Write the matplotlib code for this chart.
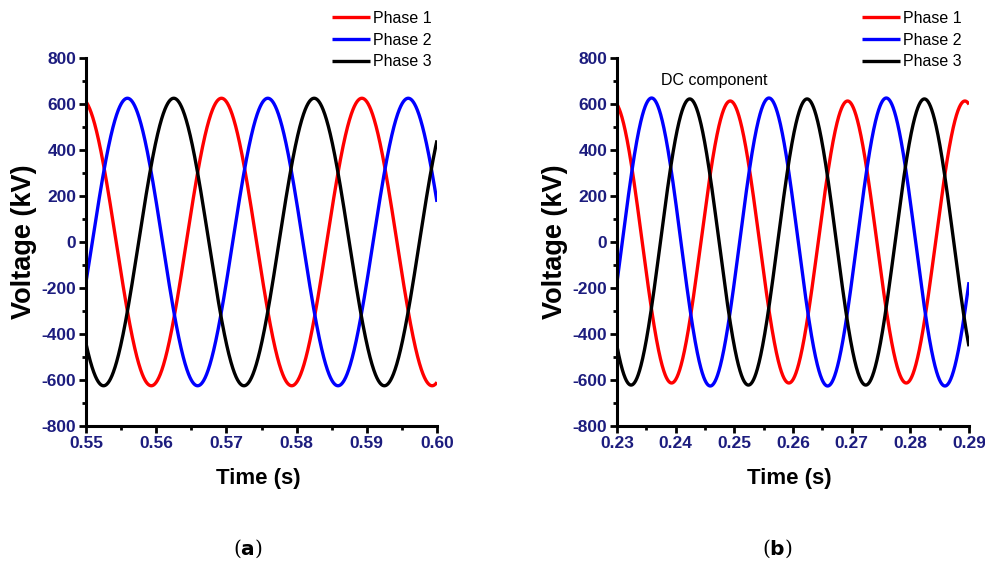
import numpy as np
import matplotlib
matplotlib.use("Agg")
import matplotlib.pyplot as plt
from matplotlib.ticker import MultipleLocator, FormatStrFormatter

# ---- data -------------------------------------------------------------
phase_labels = ["Phase 1", "Phase 2", "Phase 3"]
phase_colors = ["#ff0000", "#0000ff", "#000000"]
frequency_hz = 50.0

# panel (a): steady-state window
time_range_a = (0.55, 0.60)
amplitude_a = [625.0, 625.0, 625.0]          # kV peak
peak_time_a = [0.5693, 0.5759, 0.5625]       # s, time of a positive peak

# panel (b): window with DC component
time_range_b = (0.23, 0.29)
amplitude_b = [613.0, 626.0, 622.0]          # kV peak
peak_time_b = [0.2493, 0.2559, 0.2424]       # s, time of a positive peak

x_ticks_a = [0.55, 0.56, 0.57, 0.58, 0.59, 0.60]
x_ticks_b = [0.23, 0.24, 0.25, 0.26, 0.27, 0.28, 0.29]
y_ticks = [-800, -600, -400, -200, 0, 200, 400, 600, 800]

# ---- style ------------------------------------------------------------
plt.rcParams["font.family"] = ["Liberation Sans", "DejaVu Sans"]
tick_color = "#1c1c7e"

fig = plt.figure(figsize=(9.85, 5.63), dpi=100)
W, H = 985, 563


def axes_from_px(left, top, right, bottom):
    return fig.add_axes([left / W, 1 - bottom / H, (right - left) / W, (bottom - top) / H])


def draw_panel(ax, trange, amps, peaks, xticks, legend_x):
    t = np.linspace(trange[0], trange[1], 1500)
    for lab, col, amp, tp in zip(phase_labels, phase_colors, amps, peaks):
        v = amp * np.cos(2 * np.pi * frequency_hz * (t - tp))
        ax.plot(t, v, color=col, lw=2.4, label=lab, solid_capstyle="butt")

    ax.set_xlim(trange)
    ax.set_ylim(-800, 800)
    ax.set_xticks(xticks)
    ax.set_yticks(y_ticks)
    ax.xaxis.set_minor_locator(MultipleLocator(0.005))
    ax.yaxis.set_minor_locator(MultipleLocator(100))
    ax.xaxis.set_major_formatter(FormatStrFormatter("%.2f"))
    ax.yaxis.set_major_formatter(FormatStrFormatter("%d"))

    for side in ("top", "right"):
        ax.spines[side].set_visible(False)
    for side in ("left", "bottom"):
        ax.spines[side].set_linewidth(2.2)

    ax.tick_params(which="major", direction="out", length=5, width=2.0,
                   labelsize=12.5, labelcolor=tick_color, pad=2)
    ax.tick_params(which="minor", direction="out", length=3, width=2.0)
    for lbl in ax.get_xticklabels() + ax.get_yticklabels():
        lbl.set_fontweight("bold")

    ax.set_xlabel("Time (s)", fontsize=16, fontweight="bold")
    ax.set_ylabel("Voltage (kV)", fontsize=19.5, fontweight="bold")
    ax.xaxis.set_label_coords(0.49, -0.115)
    ax.yaxis.set_label_coords(-0.14, 0.5)

    ax.legend(loc="upper left", bbox_to_anchor=(legend_x / W, 1 - 11 / H),
              bbox_transform=fig.transFigure, frameon=False, fontsize=11.5,
              handlelength=2.4, handletextpad=0.15, labelspacing=0.42,
              borderpad=0, borderaxespad=0)


ax_a = axes_from_px(86, 58, 437, 426)
draw_panel(ax_a, time_range_a, amplitude_a, peak_time_a, x_ticks_a, 332)

ax_b = axes_from_px(617, 58, 969, 426)
draw_panel(ax_b, time_range_b, amplitude_b, peak_time_b, x_ticks_b, 862)
ax_b.text(661 / W, 1 - 80 / H, "DC component", transform=fig.transFigure,
          fontsize=11.5, ha="left", va="center", color="black")

# sub-figure captions
for cx, letter in ((248, "a"), (777, "b")):
    fig.text(cx / W, 1 - 549 / H, r"($\mathbf{" + letter + r"}$)",
             fontsize=14.5, ha="center", va="center", family="DejaVu Serif")

fig.savefig("out.png", dpi=100, facecolor="white")
